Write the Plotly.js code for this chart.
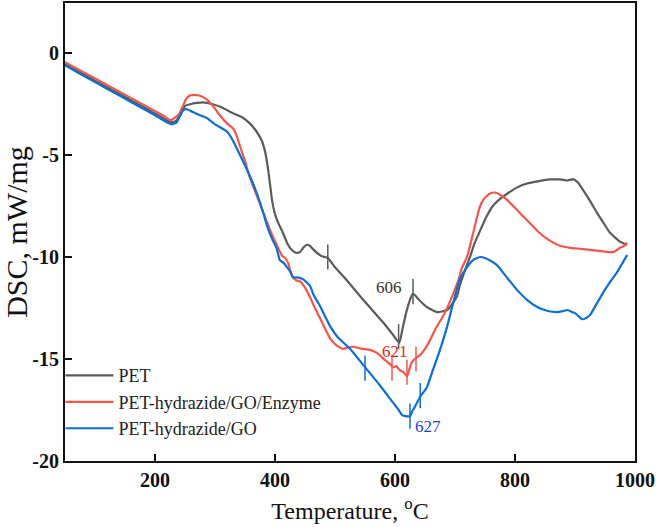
<!DOCTYPE html>
<html>
<head>
<meta charset="utf-8">
<script src="https://cdn.plot.ly/plotly-3.0.1.min.js"></script>
<style>html,body{margin:0;padding:0;background:#fff;}</style>
</head>
<body>
<div id="chart" style="width:656px;height:527px;"></div>
<script>
// ---- Data (temperature in °C, DSC in mW/mg) ----
const seriesNames = ["PET", "PET-hydrazide/GO/Enzyme", "PET-hydrazide/GO"];

const petT = [50,80,120,160,200,220,228,236,244,250,260,270,280,295,310,330,345,358,368,378,384,388,392,395,400,405,413,420,425,432,437,442,447,453,458,463,470,477,488,500,520,547,580,595,607,612,618,625,630,640,653,670,687,703,708,716,725,733,742,752,763,775,787,803,820,840,858,875,887,892,897,905,913,925,937,948,958,967,975,982,987];
const petV = [-0.54,-1.03,-1.68,-2.32,-2.96,-3.3,-3.4,-3.3,-2.95,-2.6,-2.5,-2.45,-2.42,-2.5,-2.65,-2.95,-3.15,-3.45,-3.8,-4.3,-4.9,-5.6,-6.5,-7.2,-7.9,-8.3,-8.8,-9.3,-9.55,-9.75,-9.8,-9.75,-9.55,-9.4,-9.45,-9.6,-9.8,-9.95,-10.05,-10.5,-11.15,-12.1,-13.2,-13.75,-14.2,-13.6,-12.8,-12.1,-11.8,-12.1,-12.45,-12.7,-12.6,-11.95,-11.4,-10.7,-10.0,-9.3,-8.7,-8.05,-7.5,-7.15,-6.9,-6.6,-6.4,-6.28,-6.2,-6.2,-6.25,-6.22,-6.18,-6.35,-6.7,-7.25,-7.85,-8.35,-8.8,-9.05,-9.25,-9.35,-9.4];

const enzT = [50,80,120,160,200,218,225,232,240,245,252,258,265,275,287,298,308,320,330,336,342,350,358,367,375,383,392,402,412,417,422,426,430,436,442,450,458,465,470,480,492,503,513,520,530,545,558,570,583,590,597,602,608,614,620,624,628,635,642,650,658,668,680,690,697,705,712,720,728,737,742,747,755,762,768,775,785,797,810,825,840,858,875,892,910,925,940,953,965,975,982,987];
const enzV = [-0.45,-0.93,-1.57,-2.2,-2.85,-3.15,-3.3,-3.2,-3.0,-2.7,-2.25,-2.08,-2.05,-2.1,-2.3,-2.65,-3.05,-3.45,-3.7,-4.05,-4.6,-5.3,-6.1,-6.8,-7.4,-8.0,-8.7,-9.35,-9.95,-10.05,-10.3,-10.7,-11.0,-11.15,-11.2,-11.5,-11.95,-12.4,-12.7,-13.3,-14.0,-14.35,-14.5,-14.45,-14.4,-14.5,-14.55,-14.7,-15.05,-15.2,-15.4,-15.35,-15.55,-15.65,-15.85,-15.5,-15.15,-14.95,-14.8,-14.5,-14.1,-13.5,-12.9,-12.3,-11.8,-11.2,-10.5,-10.0,-9.1,-8.0,-7.5,-7.2,-6.95,-6.85,-6.85,-6.95,-7.15,-7.5,-7.9,-8.35,-8.8,-9.2,-9.45,-9.55,-9.6,-9.65,-9.7,-9.75,-9.75,-9.55,-9.45,-9.3];

const goT = [50,80,120,160,200,220,228,236,242,247,252,260,275,287,300,320,330,340,353,362,370,378,387,395,403,408,415,420,425,430,437,447,458,465,475,485,492,505,525,550,575,597,605,612,618,625,629,633,642,653,663,675,687,697,708,720,730,742,750,760,770,785,803,820,837,855,870,880,888,895,900,906,912,918,925,935,947,958,970,980,987];
const goV = [-0.6,-1.1,-1.75,-2.4,-3.05,-3.4,-3.5,-3.4,-3.05,-2.8,-2.75,-2.85,-3.05,-3.2,-3.5,-3.85,-4.3,-4.9,-5.7,-6.3,-6.9,-7.6,-8.5,-9.1,-9.6,-10.15,-10.3,-10.5,-10.7,-11.0,-11.0,-11.1,-11.4,-11.9,-12.4,-13.0,-13.4,-13.95,-14.5,-15.4,-16.3,-17.15,-17.45,-17.75,-17.8,-17.8,-17.55,-17.35,-16.85,-16.4,-15.55,-14.55,-13.4,-12.25,-11.1,-10.5,-10.15,-10.0,-10.05,-10.2,-10.4,-10.95,-11.6,-12.1,-12.45,-12.65,-12.7,-12.65,-12.6,-12.7,-12.75,-12.9,-13.05,-13.0,-12.85,-12.35,-11.75,-11.25,-10.75,-10.25,-9.9];

// short vertical marks on the curves
const petMarkT = [488, 606, 630];
const petMarkV = [-10.0, -13.9, -11.7];
const enzMarkT = [595, 620, 635];
const enzMarkV = [-15.45, -15.65, -15.0];
const goMarkT = [550, 625, 642];
const goMarkV = [-15.45, -17.8, -16.8];

// peak labels
const peakLabels = ["606", "621", "627"];
const peakLabelT = [590, 600, 655];
const peakLabelV = [-11.5, -14.65, -18.3];

const xTicks = [200, 400, 600, 800, 1000];
const yTicks = [0, -5, -10, -15, -20];

const colors = ["#5b5b5b", "#f4564c", "#0b6fd4"];
const labelColors = ["#333333", "#e8231a", "#1c3fd8"];
const serif = "Liberation Serif, Times New Roman, serif";

const curves = [[petT, petV], [enzT, enzV], [goT, goV]];
const marks = [[petMarkT, petMarkV], [enzMarkT, enzMarkV], [goMarkT, goMarkV]];

const traces = [];
curves.forEach((c, i) => {
  traces.push({
    x: c[0], y: c[1], type: "scatter", mode: "lines", name: seriesNames[i],
    line: {color: colors[i], width: 2.2, shape: "spline", smoothing: 0.5}
  });
});
marks.forEach((m, i) => {
  traces.push({
    x: m[0], y: m[1], type: "scatter", mode: "markers", showlegend: false,
    marker: {symbol: "line-ns", size: 18, line: {color: colors[i], width: 1.5}}
  });
});

const annotations = peakLabels.map((t, i) => ({
  x: peakLabelT[i], y: peakLabelV[i], xref: "x", yref: "y", text: t,
  showarrow: false, font: {family: serif, size: 17, color: labelColors[i]}
}));

const layout = {
  width: 656, height: 527,
  margin: {l: 65, r: 21, t: 3, b: 66},
  paper_bgcolor: "#fff", plot_bgcolor: "#fff",
  showlegend: true,
  legend: {
    x: -0.008, y: 0.03, xanchor: "left", yanchor: "bottom",
    bgcolor: "rgba(0,0,0,0)", borderwidth: 0, itemwidth: 48,
    font: {family: serif, size: 18, color: "#222"},
    tracegroupgap: 0
  },
  xaxis: {
    range: [50, 1000], tickvals: xTicks, ticktext: xTicks.map(String),
    ticks: "inside", ticklen: 7, tickwidth: 2, tickcolor: "#111",
    showline: true, linecolor: "#111", linewidth: 2, mirror: true,
    showgrid: false, zeroline: false,
    tickfont: {family: serif, size: 20, color: "#111", weight: "bold"},
    title: {text: "Temperature, <sup>o</sup>C", font: {family: serif, size: 24, color: "#111"}, standoff: 12}
  },
  yaxis: {
    range: [-20, 2.45], tickvals: yTicks, ticktext: yTicks.map(String),
    ticks: "inside", ticklen: 7, tickwidth: 2, tickcolor: "#111",
    showline: true, linecolor: "#111", linewidth: 2, mirror: true,
    showgrid: false, zeroline: false,
    tickfont: {family: serif, size: 20, color: "#111", weight: "bold"},
    title: {text: "DSC, mW/mg", font: {family: serif, size: 30, color: "#111"}, standoff: 6}
  },
  annotations: annotations
};

Plotly.newPlot("chart", traces, layout, {displayModeBar: false, staticPlot: true});
</script>
</body>
</html>
